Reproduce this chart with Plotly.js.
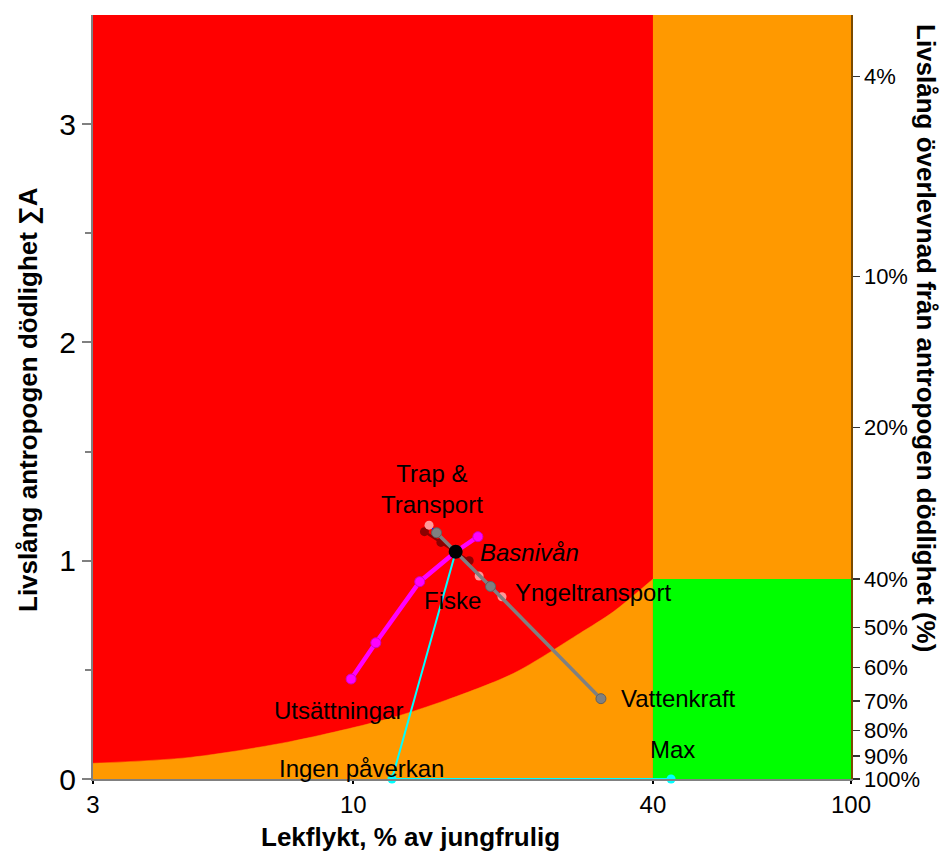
<!DOCTYPE html>
<html>
<head>
<meta charset="utf-8">
<script src="https://cdn.plot.ly/plotly-3.0.1.min.js"></script>
<style>html,body{margin:0;padding:0;background:#fff;}#chart{width:942px;height:855px;}</style>
</head>
<body>
<div id="chart"></div>
<script>
// ---- Data ----
// Red zone lower boundary (Lekflykt %, Sum A)
const redBoundaryX = [3, 4.7, 7.46, 11.85, 15.4, 21, 28.5, 33.3, 40];
const redBoundaryY = [0.072, 0.099, 0.171, 0.278, 0.362, 0.484, 0.667, 0.766, 0.916];
const xMin = 3, xMax = 100, yMax = 3.5;
const redLekflyktMax = 40;
const greenLekflykt = [40, 100];
const greenSurvival = 0.40;

// Sensitivity series
const basX = [16.06], basY = [1.041];
const utsX = [9.9, 11.1, 13.6, 16.06, 17.8];
const utsY = [0.458, 0.624, 0.904, 1.041, 1.11];
const vattenX = [14.7, 16.06, 18.87, 31.45];
const vattenY = [1.128, 1.041, 0.882, 0.368];
const fiskeX = [13.9, 15.0, 16.06, 17.1];
const fiskeY = [1.133, 1.084, 1.041, 1.0];
const trapX = [14.2, 16.06, 17.9, 19.9];
const trapY = [1.163, 1.041, 0.93, 0.835];
const ingenX = [16.06, 11.96];
const ingenY = [1.041, 0];
const maxX = [11.96, 43.5];
const maxY = [0, 0];

// Axis ticks
const xTicks = [3, 10, 40, 100];
const yTicks = [0, 1, 2, 3];
const survivalPct = [4, 10, 20, 40, 50, 60, 70, 80, 90, 100];

// ---- Build ----
const FONT = 'Liberation Sans, Arial, sans-serif';
const skip = {hoverinfo: 'skip', showlegend: false};
const traces = [];

// orange background
traces.push(Object.assign({x: [xMin, xMax, xMax, xMin], y: [0, 0, yMax, yMax], mode: 'lines', fill: 'toself',
  fillcolor: '#FF9900', line: {width: 0}}, skip));
// red zone block
traces.push(Object.assign({x: [xMin, redLekflyktMax, redLekflyktMax, xMin], y: [0, 0, yMax, yMax], mode: 'lines', fill: 'toself',
  fillcolor: '#FF0000', line: {width: 0}}, skip));
// orange below the boundary curve
traces.push(Object.assign({x: redBoundaryX, y: redBoundaryY, mode: 'lines', fill: 'tozeroy',
  fillcolor: '#FF9900', line: {width: 0.5, color: '#FF9900', shape: 'spline', smoothing: 0.8}}, skip));
// green zone
const gy = -Math.log(greenSurvival);
traces.push(Object.assign({x: [greenLekflykt[0], greenLekflykt[1], greenLekflykt[1], greenLekflykt[0]], y: [0, 0, gy, gy],
  mode: 'lines', fill: 'toself', fillcolor: '#00FF00', line: {width: 0}}, skip));

traces.push(Object.assign({x: maxX, y: maxY, mode: 'lines+markers', line: {color: '#00FFFF', width: 2},
  marker: {size: 9, color: '#00FFFF'}, cliponaxis: false}, skip));
traces.push(Object.assign({x: fiskeX, y: fiskeY, mode: 'lines+markers', line: {color: '#8B0000', width: 2.5},
  marker: {size: 9, color: '#8B0000'}}, skip));
traces.push(Object.assign({x: trapX, y: trapY, mode: 'lines+markers', line: {color: '#0000FF', width: 2},
  marker: {size: 9, color: '#FF9999'}}, skip));
traces.push(Object.assign({x: vattenX, y: vattenY, mode: 'lines+markers', line: {color: '#808080', width: 3.5},
  marker: {size: 10, color: '#808080', line: {color: '#606060', width: 1}}}, skip));
traces.push(Object.assign({x: utsX, y: utsY, mode: 'lines+markers', line: {color: '#FF00FF', width: 4.5},
  marker: {size: 10, color: '#FF00FF', line: {color: '#CC00CC', width: 1}}}, skip));
traces.push(Object.assign({x: ingenX, y: ingenY, mode: 'lines', line: {color: '#00FFFF', width: 2}}, skip));
traces.push(Object.assign({x: basX, y: basY, mode: 'markers', marker: {size: 14, color: '#000000'}}, skip));
// invisible trace to carry right axis
traces.push(Object.assign({x: [xMin], y: [0], yaxis: 'y2', mode: 'markers', marker: {opacity: 0}}, skip));

const W = 942, H = 855, L = 93, R = 91, T = 15, B = 76;
const pw = W - L - R, ph = H - T - B;
const px = v => (v - L) / pw, py = v => (H - B - v) / ph;

const lab = (text, x, y, xanchor, extra) => Object.assign({text: text, xref: 'paper', yref: 'paper',
  x: px(x), y: py(y), xanchor: xanchor, yanchor: 'middle', showarrow: false,
  font: {family: FONT, size: 24, color: '#000'}}, extra || {});
const titleFont = {family: FONT, size: 26, color: '#000'};

const annotations = [
  lab('Trap &amp;<br>Transport', 432, 489, 'center'),
  lab('<i>Basnivån</i>', 478, 552, 'left'),
  lab('Fiske', 452, 600, 'center'),
  lab('Yngeltransport', 513, 592, 'left'),
  lab('Vattenkraft', 619, 698, 'left'),
  lab('Utsättningar', 338, 710, 'center'),
  lab('Ingen påverkan', 361, 768, 'center'),
  lab('Max', 672, 749, 'center'),
  lab('<b>Livslång antropogen dödlighet ∑A</b>', 28, 400, 'center', {textangle: -90, font: titleFont}),
  lab('<b>Lekflykt, % av jungfrulig</b>', 410, 837, 'center', {font: titleFont}),
  lab('<b>Livslång överlevnad från antropogen dödlighet (%)</b>', 926, 338, 'center', {textangle: 90, font: titleFont})
];

const layout = {
  width: W, height: H,
  margin: {l: L, r: R, t: T, b: B, pad: 0},
  paper_bgcolor: '#FFFFFF', plot_bgcolor: '#FFFFFF',
  showlegend: false,
  xaxis: {type: 'log', range: [Math.log10(xMin), Math.log10(xMax)], tickmode: 'array', tickvals: xTicks,
    ticktext: xTicks.map(String), ticks: 'outside', ticklen: 3, tickwidth: 2, tickcolor: '#000',
    showgrid: false, zeroline: false, showline: true, linecolor: '#808080', linewidth: 2,
    tickfont: {family: FONT, size: 24, color: '#000'}, fixedrange: true},
  yaxis: {range: [0, yMax], tickmode: 'array', tickvals: yTicks, ticktext: yTicks.map(String),
    ticks: 'outside', ticklen: 9, tickwidth: 2, tickcolor: '#808080',
    minor: {tickmode: 'array', tickvals: [0.5, 1.5, 2.5], ticks: 'outside', ticklen: 6, tickwidth: 2, tickcolor: '#808080'},
    showgrid: false, zeroline: false, showline: true, linecolor: '#808080', linewidth: 2,
    tickfont: {family: FONT, size: 30, color: '#000'}, fixedrange: true},
  yaxis2: {overlaying: 'y', side: 'right', range: [0, yMax], tickmode: 'array',
    tickvals: survivalPct.map(p => -Math.log(p / 100)), ticktext: survivalPct.map(p => p + '%'),
    ticks: 'outside', ticklen: 7, tickwidth: 1.5, tickcolor: '#333',
    showgrid: false, zeroline: false, showline: true, linecolor: '#7a4a00', linewidth: 1.5,
    tickfont: {family: FONT, size: 22, color: '#000'}, fixedrange: true},
  annotations: annotations
};

Plotly.newPlot('chart', traces, layout, {displayModeBar: false, staticPlot: true});
</script>
</body>
</html>
